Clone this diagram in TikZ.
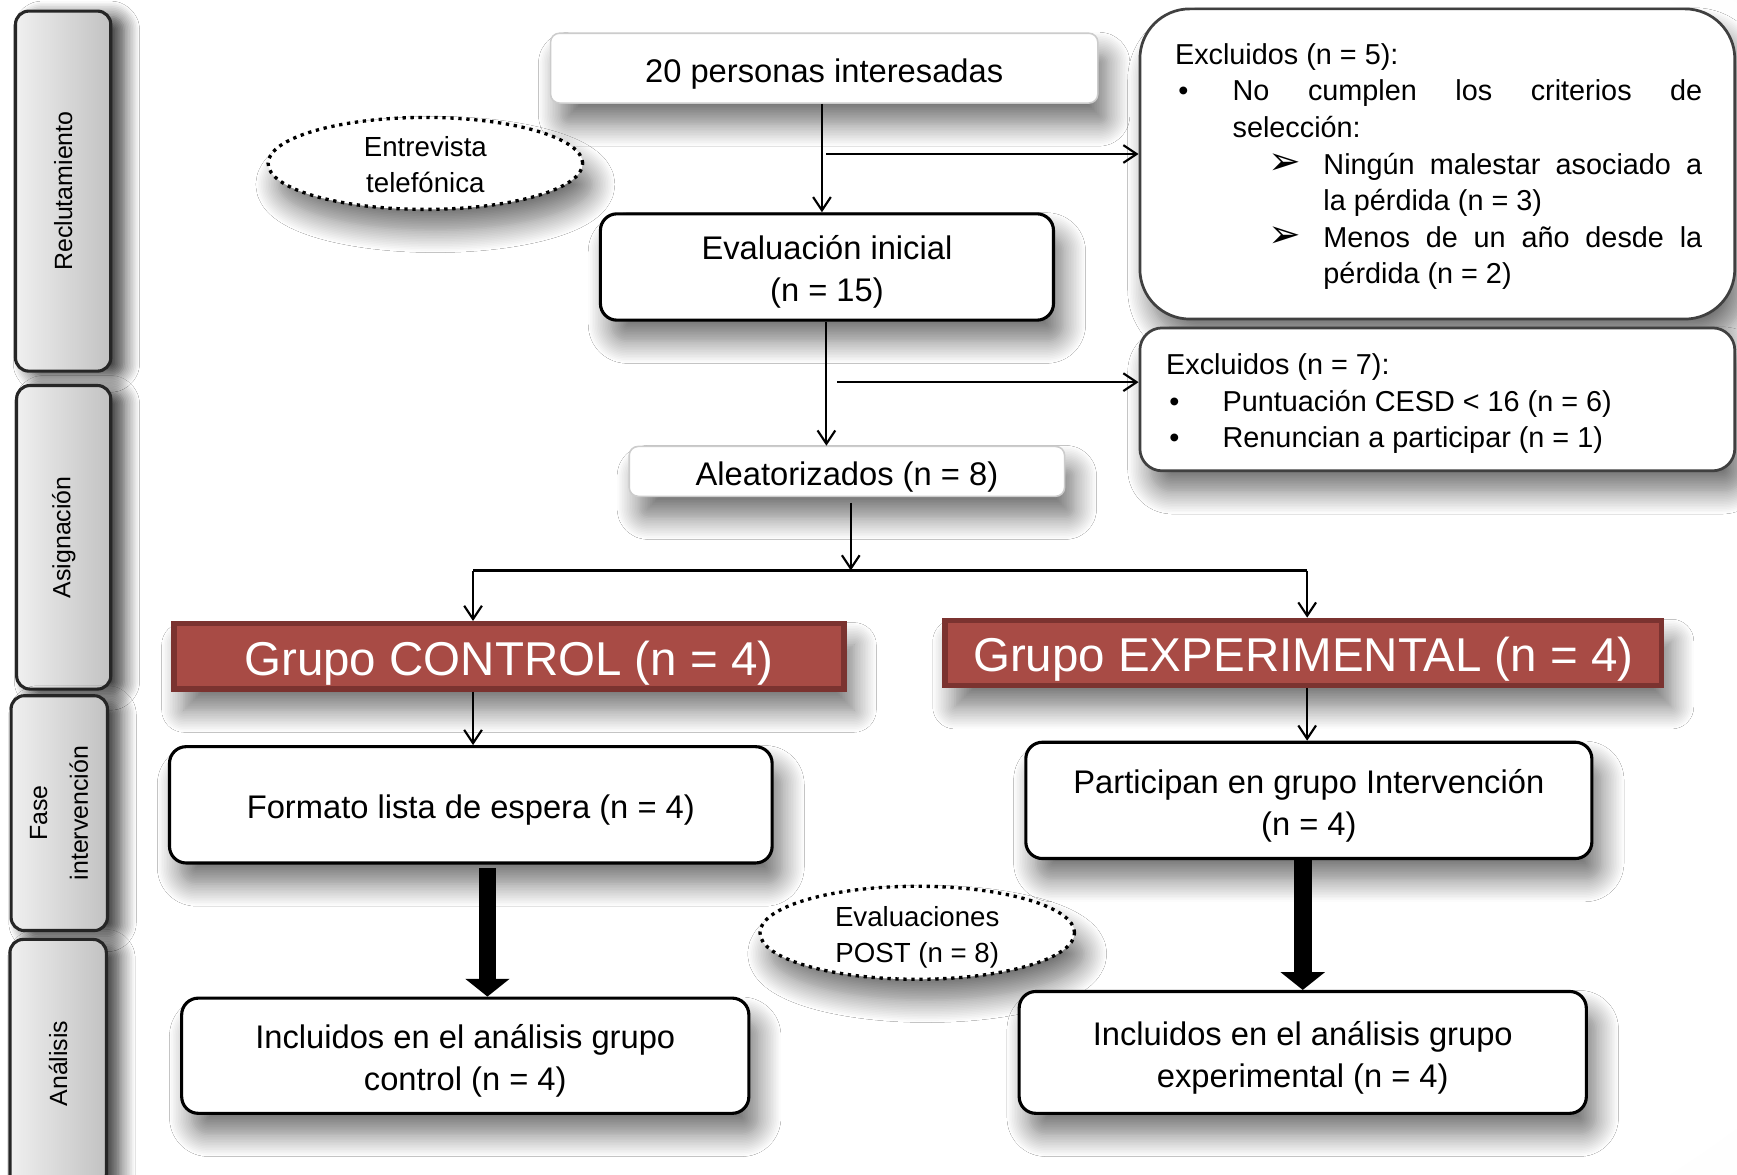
\documentclass[tikz,border=0pt]{standalone}
\usepackage{fontspec}
\setmainfont{Liberation Sans}
\newfontfamily\symfont{DejaVu Sans}
\usetikzlibrary{shapes.geometric, arrows.meta, shadows.blur}

\definecolor{grpfill}{HTML}{A84B45}
\definecolor{grpedge}{HTML}{7B3330}

% soft grey vignette behind the whole chart
\pgfdeclareradialshading{vignette}{\pgfpoint{0bp}{0bp}}{%
  color(0bp)=(white); color(30bp)=(white); color(52bp)=(black!8); color(72bp)=(black!16)}

\tikzset{
  softshadow/.style={blur shadow={shadow xshift=0.9mm, shadow yshift=-1.9mm,
      shadow blur radius=2.0mm, shadow opacity=55, shadow blur steps=14}},
  phasebox/.style={draw=black!85, line width=0.8pt, rounded corners=1.2mm,
      left color=black!6, right color=black!24, inner sep=0pt,
      blur shadow={shadow xshift=1.2mm, shadow yshift=-0.5mm, shadow blur radius=1.4mm,
        shadow opacity=80, shadow blur steps=10},
      font=\fontsize{6.4}{10.5}\selectfont},
  flowbox/.style={draw=black, line width=0.8pt, rounded corners=1.5mm, fill=white,
      inner sep=0pt, softshadow, font=\fontsize{8.4}{10.8}\selectfont},
  plainbox/.style={draw=black!20, line width=0.4pt, rounded corners=0.8mm, fill=white,
      inner sep=0pt, softshadow, font=\fontsize{8.4}{10.8}\selectfont},
  exclbox/.style={draw=black!75, line width=0.7pt, fill=white, inner sep=0pt, softshadow},
  excltext/.style={anchor=base west, inner sep=0pt, font=\fontsize{7.4}{9.4}\selectfont},
  groupbox/.style={draw=grpedge, line width=1.4pt, fill=grpfill, text=white,
      inner sep=0pt, softshadow, font=\fontsize{12.2}{14}\selectfont},
  notecloud/.style={ellipse, draw=black, line width=0.3mm, dash pattern=on 0.3mm off 0.42mm,
      fill=white, inner sep=0pt, softshadow, font=\fontsize{7.1}{9.4}\selectfont},
  flow/.style={draw=black, line width=0.55pt, -{Straight Barb[length=1.2mm, width=1.6mm]}},
  joinline/.style={draw=black, line width=0.55pt},
  bigflow/.style={draw=black, line width=1.6mm,
      -{Triangle[length=1.6mm, width=4mm, line width=0pt]}},
}
% centred lines, set slightly below the middle of their box
\newcommand{\lowered}[2][0.5mm]{\raisebox{-#1}[\height][\depth]{\begin{tabular}{@{}c@{}}#2\end{tabular}}}
% centred lines that take no height, so an ellipse keeps its given size
\newcommand{\flatlines}[2][0.6mm]{\raisebox{-#1}[0pt][0pt]{\begin{tabular}{@{}c@{}}#2\end{tabular}}}
\newcommand{\pointer}{{\symfont\fontsize{10}{9.4}\selectfont ➢}}

\begin{document}
\begin{tikzpicture}[x=0.1mm, y=-0.1mm]
\useasboundingbox (0,0) rectangle (1568,1060);
\begin{scope}
  \clip (0,0) rectangle (1568,1060);
  \shade[shading=vignette] (-250,-80) rectangle (1640,1140);
\end{scope}

% phase column
\node[phasebox, minimum width=8.6mm, minimum height=32.5mm] (rec) at (57,172.5) {\rotatebox{90}{Reclutamiento}};
\node[phasebox, minimum width=8.5mm, minimum height=27.4mm] (asi) at (57.5,485) {\rotatebox{90}{Asignación}};
\node[phasebox, minimum width=8.7mm, minimum height=21.2mm] (fas) at (53.5,734)
  {\rotatebox{90}{\begin{tabular}{@{}c@{}}Fase\\intervención\end{tabular}}};
\node[phasebox, minimum width=8.7mm, minimum height=22.4mm] (ana) at (52.5,960) {\rotatebox{90}{Análisis}};

% recruitment and screening
\node[plainbox, minimum width=49.4mm, minimum height=6.3mm] (p20) at (744,61.5) {\lowered{20 personas interesadas}};
\node[notecloud, minimum width=28.4mm, minimum height=8.3mm] (ent) at (384,147.5) {\flatlines[0.95mm]{Entrevista\\telefónica}};
\node[flowbox, minimum width=40.9mm, minimum height=9.6mm] (ev) at (746.5,241) {\lowered{Evaluación inicial\\(n = 15)}};

\node[exclbox, rounded corners=4.5mm, minimum width=53.7mm, minimum height=28mm] (ex1) at (1297.5,148) {};
\node[excltext] (ex1t) at (1060,58) {\begin{minipage}[t]{47.6mm}
Excluidos (n = 5):\\
\hspace*{0.3mm}\makebox[4.9mm][l]{•}\makebox[42.4mm][s]{No cumplen los criterios de}\\
\hspace*{5.2mm}selección:\\
\hspace*{8.4mm}\makebox[5mm][l]{\pointer}\makebox[34.2mm][s]{Ningún malestar asociado a}\\
\hspace*{13.4mm}la pérdida (n = 3)\\
\hspace*{8.4mm}\makebox[5mm][l]{\pointer}\makebox[34.2mm][s]{Menos de un año desde la}\\
\hspace*{13.4mm}pérdida (n = 2)
\end{minipage}};

\node[exclbox, rounded corners=2mm, minimum width=53.7mm, minimum height=12.9mm] (ex2) at (1297.5,360.5) {};
\node[excltext] (ex2t) at (1052,338) {\begin{minipage}[t]{45mm}
Excluidos (n = 7):\\
\hspace*{0.3mm}\makebox[4.8mm][l]{•}Puntuación CESD < 16 (n = 6)\\
\hspace*{0.3mm}\makebox[4.8mm][l]{•}Renuncian a participar (n = 1)
\end{minipage}};

\node[plainbox, minimum width=39.3mm, minimum height=4.5mm] (al) at (764.5,425.5) {\lowered{Aleatorizados (n = 8)}};

% allocation
\node[groupbox, minimum width=60.5mm, minimum height=5.9mm] (grc) at (459.5,592.5) {\lowered[0.7mm]{Grupo CONTROL (n = 4)}};
\node[groupbox, minimum width=64.7mm, minimum height=5.9mm] (gre) at (1176.5,589.5) {\lowered[0.7mm]{Grupo EXPERIMENTAL (n = 4)}};

% intervention and analysis
\node[flowbox, minimum width=54.4mm, minimum height=10.5mm] (fle) at (425,726.5) {\lowered{Formato lista de espera (n = 4)}};
\node[flowbox, minimum width=51.1mm, minimum height=10.5mm] (par) at (1181.5,722.5) {\lowered{Participan en grupo Intervención\\(n = 4)}};
\node[notecloud, minimum width=28.4mm, minimum height=8.4mm] (post) at (828,842) {\flatlines[1.0mm]{Evaluaciones\\POST (n = 8)}};
\node[flowbox, minimum width=51.2mm, minimum height=10.4mm] (inc1) at (420,953) {\lowered{Incluidos en el análisis grupo\\control (n = 4)}};
\node[flowbox, minimum width=51.2mm, minimum height=11mm] (inc2) at (1176,950) {\lowered{Incluidos en el análisis grupo\\experimental (n = 4)}};

% connector columns and junctions
\coordinate (k1) at (742,0);
\coordinate (k2) at (746,0);
\coordinate (k3) at (768,0);
\coordinate (kc) at (427,0);
\coordinate (ke) at (1180,0);
\coordinate (tc) at (440,0);
\coordinate (te) at (1176,0);
\coordinate (s1) at (746,139);
\coordinate (s2) at (756,345);
\coordinate (split) at (768,515);

\draw[flow] (p20.south -| k1) -- (ev.north -| k1);
\draw[flow] (s1) -- (s1 -| ex1.west);
\draw[flow] (ev.south -| k2) -- (al.north -| k2);
\draw[flow] (s2) -- (s2 -| ex2.west);
\draw[flow, shorten <=0.5mm] (al.south -| k3) -- (split);
\draw[joinline] (split -| kc) -- (split -| ke);
\draw[flow] (split -| kc) -- (grc.north -| kc);
\draw[flow] (split -| ke) -- (gre.north -| ke);
\draw[flow] (grc.south -| kc) -- (fle.north -| kc);
\draw[flow] (gre.south -| ke) -- (par.north -| ke);
\draw[bigflow, shorten <=0.3mm] (fle.south -| tc) -- (inc1.north -| tc);
\draw[bigflow] (par.south -| te) -- (inc2.north -| te);
\end{tikzpicture}
\end{document}
